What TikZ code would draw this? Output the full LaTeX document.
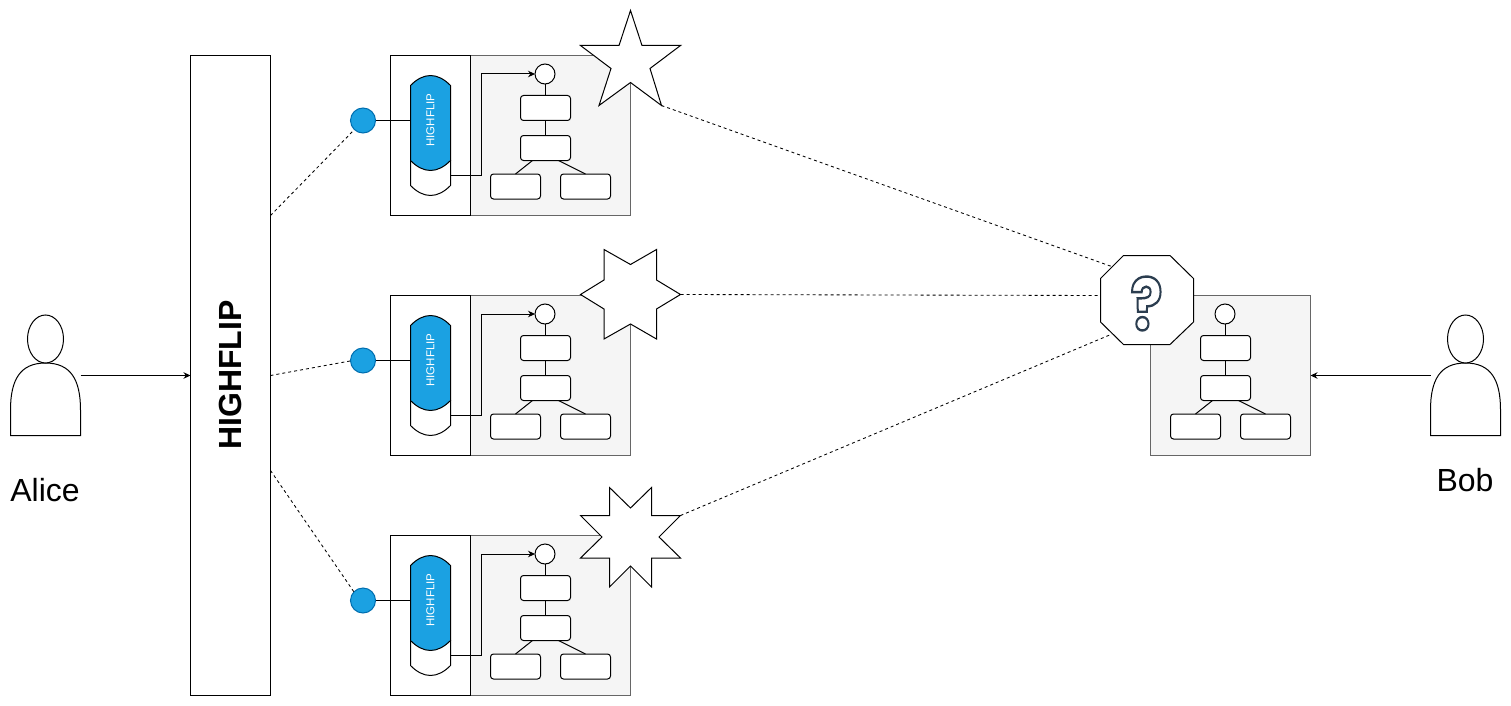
\documentclass[tikz,border=0pt]{standalone}
\usepackage{fontspec}
\setmainfont{Liberation Sans}
\newfontfamily\qfont{Poppins}
\usetikzlibrary{arrows.meta}
\definecolor{panelfill}{HTML}{F5F5F5}
\definecolor{panelline}{HTML}{666666}
\definecolor{hfblue}{HTML}{1BA1E2}
\definecolor{hfline}{HTML}{006EAF}
\tikzset{
  base/.style={line width=1pt,draw=black},
  panel/.style={draw=panelline,fill=panelfill,line width=1pt,minimum width=160pt,minimum height=160pt,inner sep=0pt,outer sep=0pt},
  holder/.style={base,fill=white,minimum width=80pt,minimum height=160pt,inner sep=0pt,outer sep=0pt},
  treebox/.style={base,fill=white,rounded corners=3pt,minimum width=50pt,minimum height=25pt,inner sep=0pt,outer sep=0pt},
  treeroot/.style={base,fill=white,circle,minimum size=20pt,inner sep=0pt,outer sep=0pt},
  link/.style={line width=1pt,draw=black},
  flow/.style={line width=1pt,draw=black,-{Stealth[length=7pt,width=6.5pt]}},
  guess/.style={line width=.85pt,draw=black,dash pattern=on 3pt off 3pt},
  dot/.style={circle,fill=hfblue,draw=hfline,line width=1pt,minimum size=25pt,inner sep=0pt,outer sep=0pt},
  shapeline/.style={base,fill=white,line join=miter},
  person/.style={minimum width=70pt,minimum height=120pt,inner sep=0pt,outer sep=0pt},
}
\newcommand{\mytree}[3]{%
  \begin{scope}[shift={(#2,#3)}]
    \node[treeroot] (#1r) at (545,74) {};
    \node[treebox] (#1a) at (545.5,108) {};
    \node[treebox] (#1b) at (545.5,148) {};
    \node[treebox] (#1c) at (515.5,186.5) {};
    \node[treebox] (#1d) at (585.5,186.5) {};
    \draw[link] (#1r.south) -- (#1r.south |- #1a.north);
    \draw[link] (#1a) -- (#1b);
    \draw[link] ([xshift=-13pt]#1b.south) -- (#1c.north);
    \draw[link] ([xshift=13pt]#1b.south) -- (#1d.north);
  \end{scope}}
\newcommand{\mypanel}[2]{%
  \begin{scope}[shift={(0,#2)}]
    \node[panel] (#1p) at (550.5,135.5) {};
    \node[holder] (#1h) at (430.5,135.5) {};
    \node[dot] (#1o) at (363,120.5) {};
    \path[base,fill=white] (410.5,160.5) -- (410.5,185.5) .. controls (423.5,198.8) and (437.5,198.8) .. (450.5,185.5) -- (450.5,160.5) -- cycle;
    \path[draw=black,line width=1pt,fill=hfblue] (410.5,85.5) .. controls (423.5,72.2) and (437.5,72.2) .. (450.5,85.5) -- (450.5,160.5) .. controls (437.5,173.8) and (423.5,173.8) .. (410.5,160.5) -- cycle;
    \node[text=white,font=\fontsize{11.5}{12}\selectfont,rotate=90,inner sep=0pt] (#1t) at (430.5,120) {HIGHFLIP};
    \coordinate (#1k) at (450.5,175.5);
    \coordinate (#1j) at (410.5,120.5);
  \end{scope}
  \mytree{#1}{0}{#2}
  \draw[link] (#1o.east) -- (#1j);
  \draw[flow] (#1k) -| ([xshift=-54pt]#1r.west) |- (#1r.west);
}
\begin{document}
\begin{tikzpicture}[x=1pt,y=-1pt]
\useasboundingbox (0,0) rectangle (1511,706);
\fill[white] (0,0) rectangle (1511,706);
% persons
\node[person] (alice) at (45.5,375.5) {};
\node[person] (bob) at (1465.5,375.5) {};
\draw[base,fill=white] (10.5,435.5) -- (10.5,410) .. controls (10.5,380) and (20,363) .. (45.5,363) .. controls (71,363) and (80.5,380) .. (80.5,410) -- (80.5,435.5) -- cycle;
\draw[base,fill=white] (45.5,339) ellipse [x radius=18pt,y radius=24pt];
\draw[base,fill=white] (1430.5,435.5) -- (1430.5,410) .. controls (1430.5,380) and (1440,363) .. (1465.5,363) .. controls (1491,363) and (1500.5,380) .. (1500.5,410) -- (1500.5,435.5) -- cycle;
\draw[base,fill=white] (1465.5,339) ellipse [x radius=18pt,y radius=24pt];
\node[font=\fontsize{32}{34}\selectfont,inner sep=0pt] (alicet) at (45,490) {Alice};
\node[font=\fontsize{32}{34}\selectfont,inner sep=0pt] (bobt) at (1465,480) {Bob};
% bar
\node[base,fill=white,minimum width=80pt,minimum height=640pt,inner sep=0pt,outer sep=0pt] (bar) at (230.5,375.5) {};
\node[font=\bfseries\fontsize{32}{34}\selectfont,rotate=90,inner sep=0pt] (bart) at (230.5,375) {HIGHFLIP};
% panels
\mypanel{A}{0}
\mypanel{B}{240}
\mypanel{C}{480}
\node[panel] (Dp) at (1230.5,375.5) {};
\mytree{D}{680}{240}
% named dash ends
\coordinate (s1) at (661.5,105.5);
\coordinate (s2) at (680.5,294.5);
\coordinate (s3) at (680.5,515.5);
\coordinate (q1) at (1113,267);
\coordinate (q2) at (1100,295.5);
\coordinate (q3) at (1112,334);
\coordinate (b1) at (270.5,215.5);
\coordinate (b2) at (270.5,375.5);
\coordinate (b3) at (270.5,470.5);
\coordinate (d1) at (354,130);
\coordinate (d2) at (350,361);
\coordinate (d3) at (354,592);
\draw[guess] (b1) -- (d1);
\draw[guess] (b2) -- (d2);
\draw[guess] (b3) -- (d3);
\draw[guess] (s1) -- (q1);
\draw[guess] (s2) -- (q2);
\draw[guess] (s3) -- (q3);
% stars
\draw[shapeline] (630.5,10.5) -- (642,45.5) -- (680.5,45.5) -- (650,68.5) -- (661.5,105.5) -- (630.5,82.5) -- (599,105.5) -- (611,68.5) -- (580.5,45.5) -- (619,45.5) -- cycle;
\draw[shapeline] (604,249.5) -- (630.5,264.5) -- (656.5,249.5) -- (656.5,280) -- (680.5,294.5) -- (656.5,309) -- (656.5,339) -- (630.5,324) -- (604,339) -- (604,309) -- (580.5,294.5) -- (604,280) -- cycle;
\draw[shapeline] (609.5,487.5) -- (630.5,508) -- (651.5,487.5) -- (651.5,515.5) -- (680.5,515.5) -- (659,537) -- (680.5,558) -- (651.5,558) -- (651.5,587) -- (630.5,566) -- (609.5,587) -- (609.5,558) -- (580.5,558) -- (602,537) -- (580.5,515.5) -- (609.5,515.5) -- cycle;
% octagon
\draw[shapeline] (1123.5,255.5) -- (1170,255.5) -- (1193.5,278.5) -- (1193.5,322) -- (1170,344.5) -- (1123.5,344.5) -- (1100.5,322) -- (1100.5,278.5) -- cycle;
\node[inner sep=0pt,font=\qfont\bfseries\fontsize{60}{64}\selectfont,text=white] (qm) at (1146.5,303.5) {\scalebox{1}[1.2]{\special{pdf:code 0.17 0.24 0.31 RG 2 w 1 Tr}?\special{pdf:code 0 Tr}}};
% flows
\draw[flow] (alice.east) -- (bar.west);
\draw[flow] (bob.west) -- (Dp.east);
\end{tikzpicture}
\end{document}
